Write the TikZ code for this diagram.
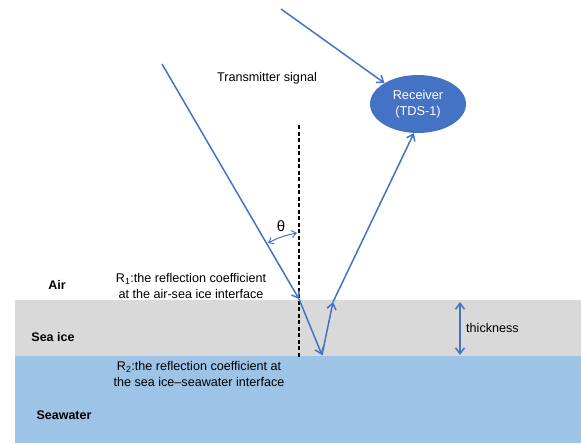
\documentclass[tikz,border=0pt]{standalone}
\usepackage{fontspec}
\setmainfont{Liberation Sans}
\usetikzlibrary{arrows.meta,shapes.geometric}
\definecolor{lineblue}{HTML}{4472C4}
\definecolor{rxblue}{HTML}{4472C4}
\definecolor{icegrey}{HTML}{D9D9D9}
\definecolor{waterblue}{HTML}{9DC3E6}
\begin{document}
\begin{tikzpicture}[x=1pt,y=-1pt,
  tip/.style={Straight Barb[length=6pt,width=9pt]},
  ray/.style={draw=lineblue, line width=1.5pt, -{Straight Barb[length=6pt,width=9pt]}},
  lbl/.style={font=\fontsize{12.6}{15.5}\selectfont, align=center, inner sep=0pt},
  layer/.style={font=\bfseries\fontsize{12.5}{14}\selectfont, inner sep=0pt}]
\useasboundingbox (0,0) rectangle (581,445);

% media layers
\fill[icegrey] (15,300) rectangle (581,356);
\fill[waterblue] (15,356) rectangle (581,443);

% surface normal
\draw[line width=1.6pt, dash pattern=on 4pt off 2.5pt] (299,125) -- (299,357);

% receiver
\node[ellipse, fill=rxblue, minimum width=96pt, minimum height=58pt, inner sep=0pt,
      text=white, align=center, font=\fontsize{12.8}{15.5}\selectfont] (rx) at (418,104) {Receiver\\(TDS-1)};

% ray path points
\coordinate (sky) at (281,9);
\coordinate (tx) at (162,64);
\coordinate (p1) at (299,299);
\coordinate (p2) at (322,355);
\coordinate (p3) at (333,302);

\draw[ray] (sky) -- (rx.148);
\draw[ray] (tx) -- (p1);
\draw[ray] (p1) -- (p2);
\draw[ray] (p2) -- (p3);
\draw[ray] (p3) -- (rx.262);

% incidence angle
\coordinate (a1) at (268,243);
\coordinate (a2) at (297,233);
\draw[lineblue, line width=1pt, {Straight Barb[length=4.5pt,width=7pt]}-{Straight Barb[length=4.5pt,width=7pt]}] (a1) to[bend left=8] (a2);
\node[font=\fontsize{15}{17}\selectfont] (theta) at (281,226) {θ};

% ice thickness
\coordinate (t1) at (460,302);
\coordinate (t2) at (460,355);
\draw[ray, {Straight Barb[length=6pt,width=9pt]}-{Straight Barb[length=6pt,width=9pt]}] (t1) -- (t2);
\node[lbl, anchor=west] (thk) at (466,328) {thickness};

% labels
\node[lbl] (txlbl) at (267,78) {Transmitter signal};
\node[lbl] (r1) at (191,286) {R\textsubscript{1}:the reflection coefficient\\at the air-sea ice interface};
\node[lbl] (r2) at (199,374) {R\textsubscript{2}:the reflection coefficient at\\the sea ice–seawater interface};
\node[layer] (air) at (57,285) {Air};
\node[layer] (ice) at (53,337) {Sea ice};
\node[layer] (sea) at (64,415) {Seawater};
\end{tikzpicture}
\end{document}
